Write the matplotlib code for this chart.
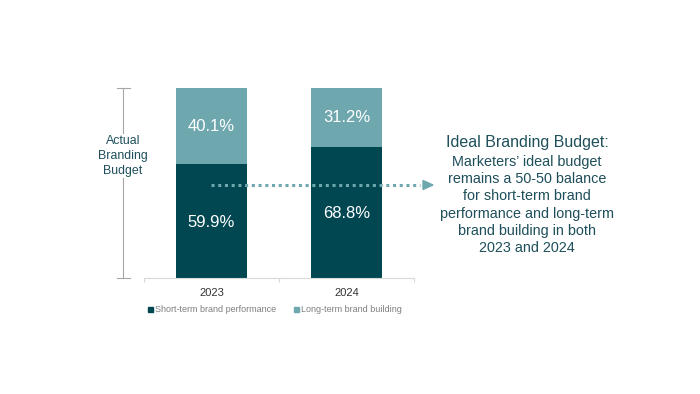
import matplotlib
matplotlib.use("Agg")
import matplotlib.pyplot as plt
from matplotlib.lines import Line2D
from matplotlib.patches import Polygon, Rectangle

plt.rcParams['font.family'] = ['Liberation Sans', 'DejaVu Sans']

years = ["2023", "2024"]
short_term = [59.9, 68.8]
long_term = [40.1, 31.2]
series_names = ["Short-term brand performance", "Long-term brand building"]

DARK = "#004751"
LIGHT = "#6FA7AF"
TEXT = "#1E4F5B"

W, H = 700, 394
fig = plt.figure(figsize=(7, 3.94), dpi=100)

def fx(px):
    return px / W

def fy(py):
    return (H - py) / H

ax = fig.add_axes([fx(144), fy(278), fx(414) - fx(144), fy(88) - fy(278)])
x = list(range(len(years)))
ax.bar(x, short_term, width=0.52, color=DARK)
ax.bar(x, long_term, bottom=short_term, width=0.52, color=LIGHT)
for i in x:
    ax.text(i, short_term[i] / 2 - 0.6, f"{short_term[i]:.1f}%", ha="center", va="center",
            color="white", fontsize=12)
    ax.text(i, short_term[i] + long_term[i] / 2, f"{long_term[i]:.1f}%", ha="center",
            va="center", color="white", fontsize=12)
ax.set_xlim(-0.5, 1.5)
ax.set_ylim(0, 100)
for s in ["top", "right", "left"]:
    ax.spines[s].set_visible(False)
ax.spines["bottom"].set_color("#D9D9D9")
ax.spines["bottom"].set_linewidth(0.8)
ax.set_yticks([])
ax.set_xticks([-0.5, 0.5, 1.5])
ax.set_xticklabels([])
ax.tick_params(axis="x", length=3, color="#D9D9D9", width=0.8)
for i, y in enumerate(years):
    ax.text(i, -5, y, ha="center", va="top", fontsize=8, color="#333333")

# Legend
fig.add_artist(Rectangle((fx(148), fy(312)), fx(5), 5 / H, color=DARK))
fig.text(fx(155), fy(309.5), series_names[0], fontsize=6.5, color="#7F7F7F", va="center")
fig.add_artist(Rectangle((fx(294), fy(312)), fx(5), 5 / H, color=LIGHT))
fig.text(fx(301), fy(309.5), series_names[1], fontsize=6.5, color="#7F7F7F", va="center")

# Bracket
bc = "#A6A6A6"
fig.add_artist(Line2D([fx(123), fx(123)], [fy(88), fy(278)], color=bc, lw=0.8))
fig.add_artist(Line2D([fx(117), fx(130)], [fy(88), fy(88)], color=bc, lw=0.8))
fig.add_artist(Line2D([fx(117), fx(130)], [fy(278), fy(278)], color=bc, lw=0.8))
fig.text(fx(123), fy(156), "Actual\nBranding\nBudget", ha="center", va="center",
         fontsize=8.9, color=TEXT, linespacing=1.3,
         bbox=dict(facecolor="white", edgecolor="none", pad=1))

# Dotted arrow
fig.add_artist(Line2D([fx(211), fx(420)], [fy(185), fy(185)], color=LIGHT, lw=2.2,
                      linestyle=(0, (1, 1.2))))
fig.add_artist(Polygon([[fx(423), fy(180.5)], [fx(433), fy(185)], [fx(423), fy(189.5)]],
                       closed=True, color=LIGHT))

fig.text(fx(527), fy(143), "Ideal Branding Budget:", ha="center", va="center",
         fontsize=11.5, color=TEXT)
fig.text(fx(527), fy(205), "Marketers\u2019 ideal budget\nremains a 50-50 balance\nfor short-term brand\n"
         "performance and long-term\nbrand building in both\n2023 and 2024",
         ha="center", va="center", fontsize=10.4, color=TEXT, linespacing=1.3)

fig.savefig("out.png", dpi=100)
